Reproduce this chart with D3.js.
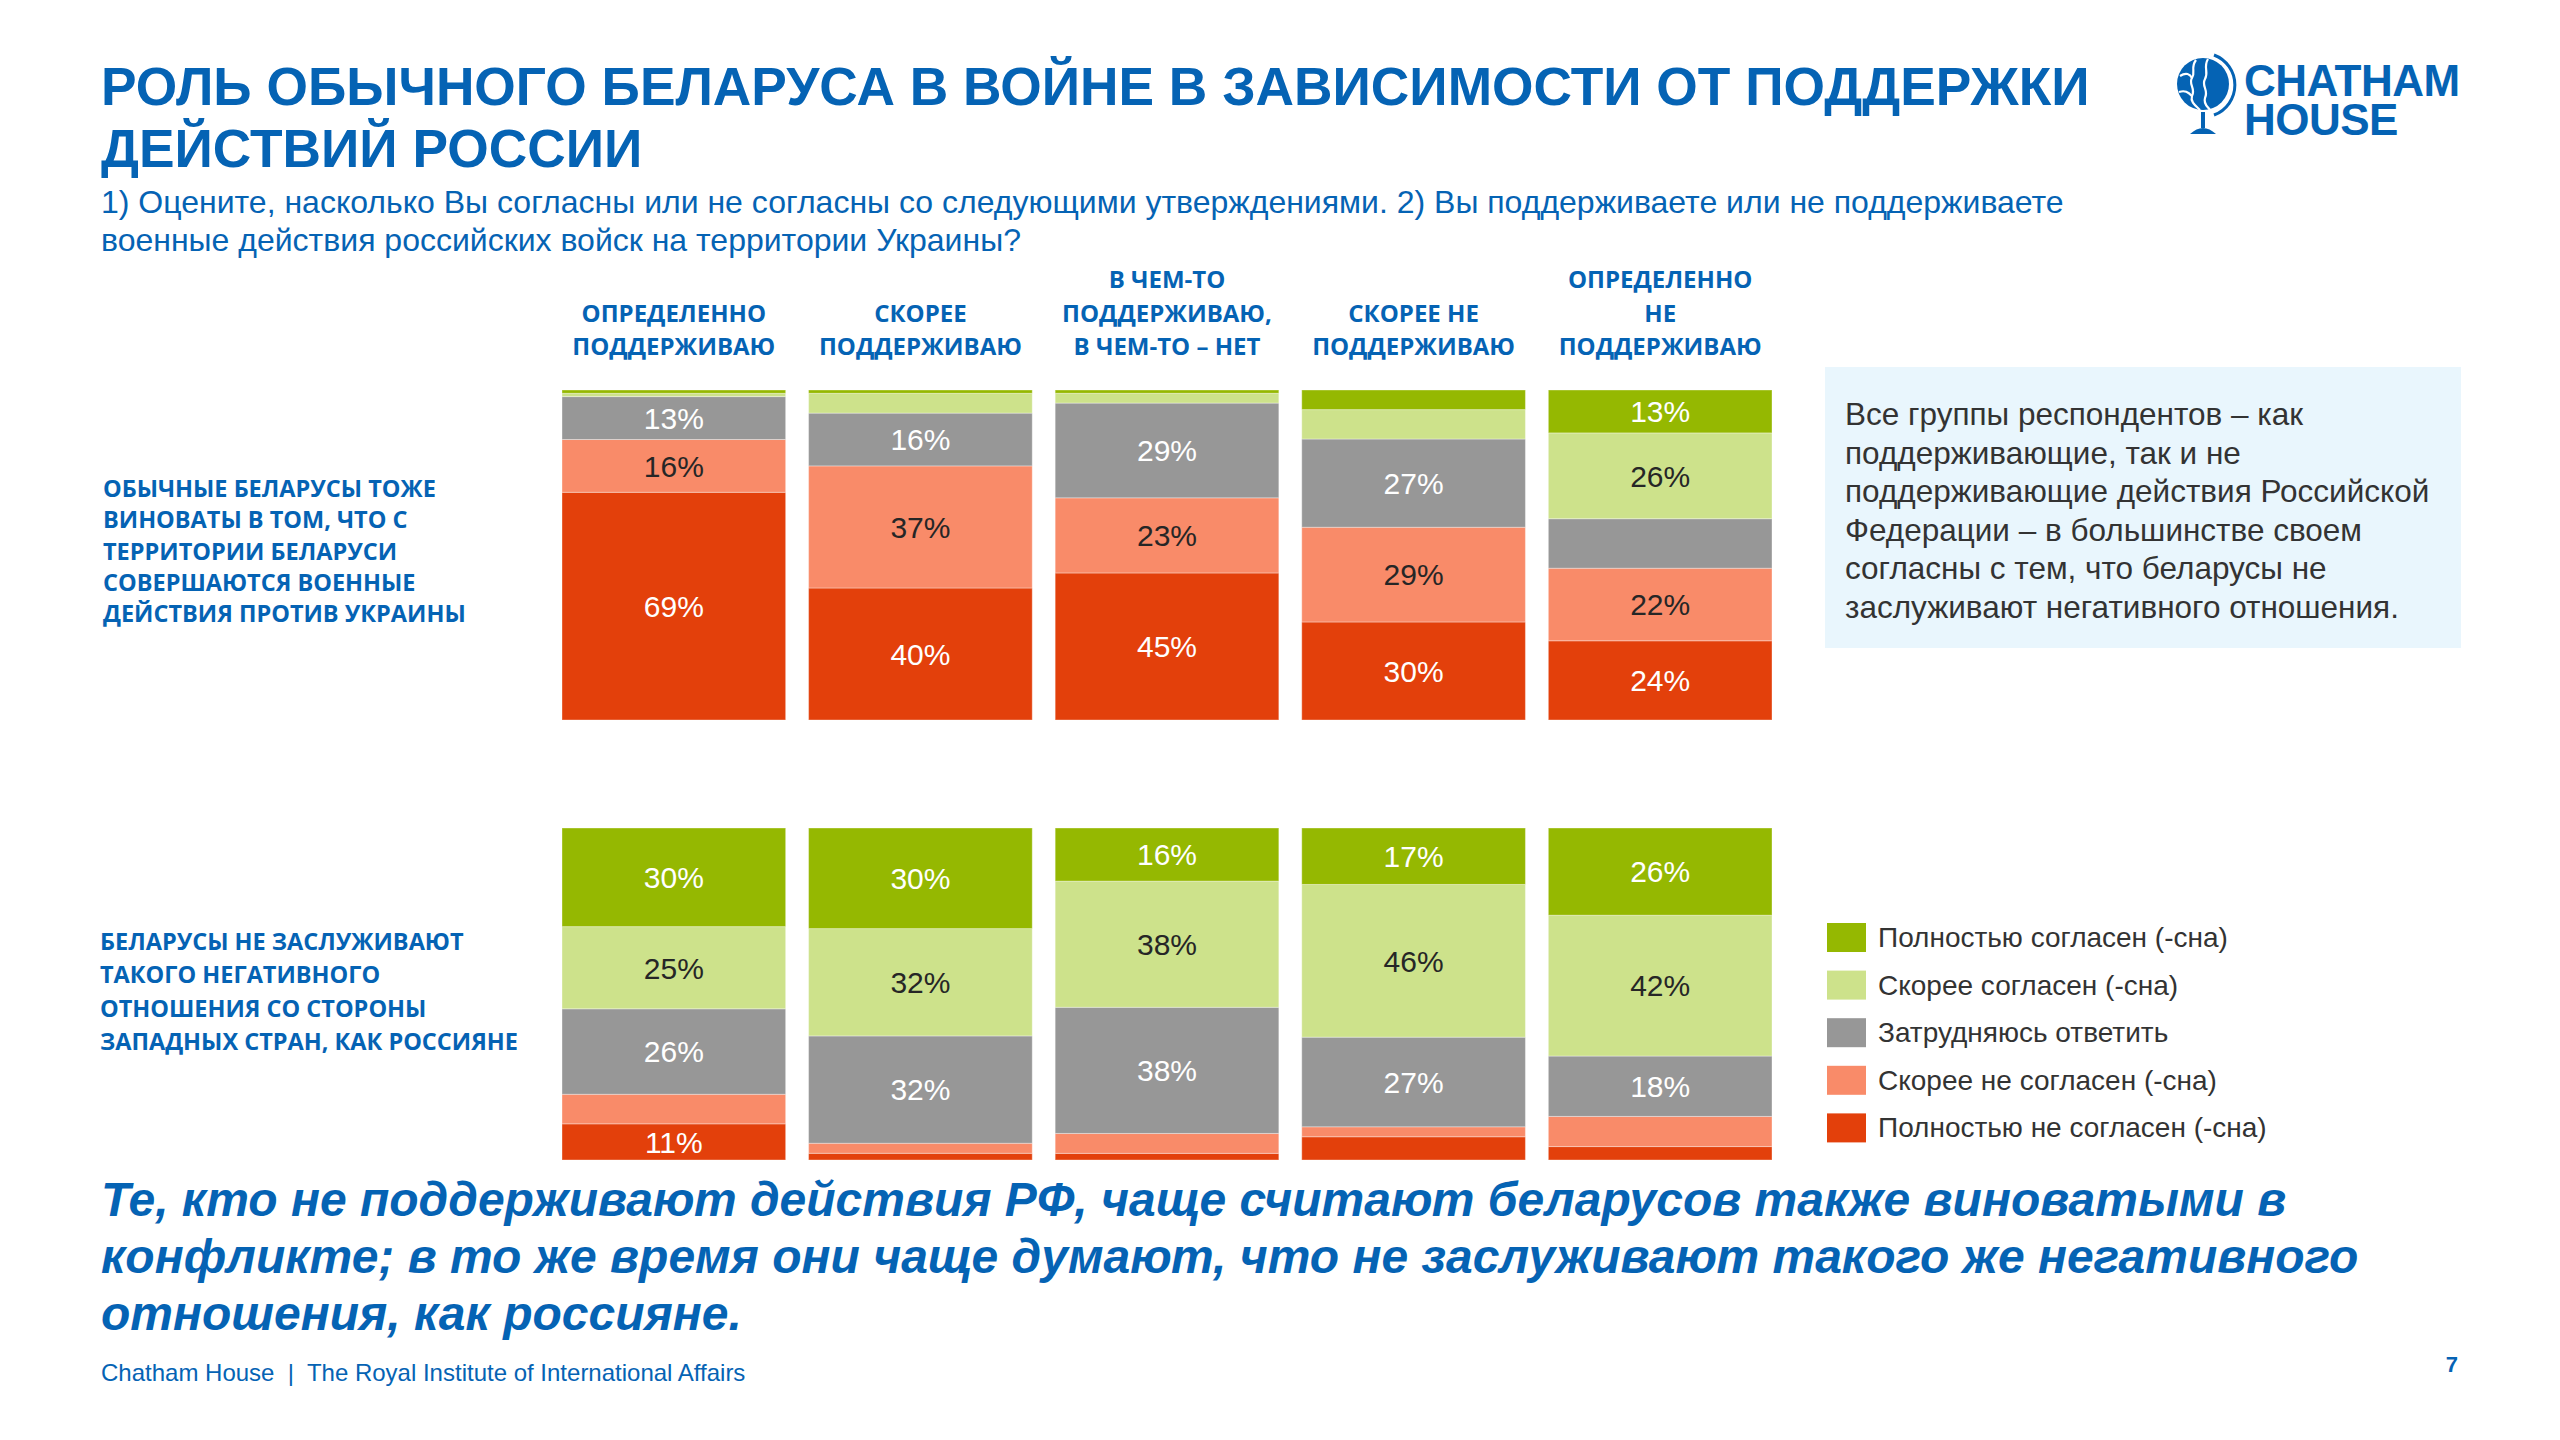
<!DOCTYPE html>
<html><head><meta charset="utf-8">
<script src="https://cdn.jsdelivr.net/npm/d3@7"></script>
<style>body{margin:0;background:#fff} svg{display:block}</style>
</head><body>
<svg id="chart" width="2560" height="1440"></svg>
<script>
// ---------- DATA ----------
const groupLines = [
  ["ОПРЕДЕЛЕННО", "ПОДДЕРЖИВАЮ"],
  ["СКОРЕЕ", "ПОДДЕРЖИВАЮ"],
  ["В ЧЕМ-ТО", "ПОДДЕРЖИВАЮ,", "В ЧЕМ-ТО – НЕТ"],
  ["СКОРЕЕ НЕ", "ПОДДЕРЖИВАЮ"],
  ["ОПРЕДЕЛЕННО", "НЕ", "ПОДДЕРЖИВАЮ"]
];
const groups = groupLines.map(l => l.join(" "));
// stacking order: bottom -> top
const seriesNames = ["Полностью не согласен (-сна)", "Скорее не согласен (-сна)", "Затрудняюсь ответить", "Скорее согласен (-сна)", "Полностью согласен (-сна)"];
const seriesKeys = ["fullyDisagree", "ratherDisagree", "hard", "ratherAgree", "fullyAgree"];

// Statement 1: ordinary Belarusians are also guilty
const s1FullyDisagree = [69, 40, 45, 30, 24];
const s1RatherDisagree = [16, 37, 23, 29, 22];
const s1Hard = [13, 16, 29, 27, 15];
const s1RatherAgree = [1, 6, 3, 9, 26];
const s1FullyAgree = [1, 1, 1, 6, 13];

// Statement 2: Belarusians do not deserve the same negative attitude
const s2FullyDisagree = [11, 2, 2, 7, 4];
const s2RatherDisagree = [9, 3, 6, 3, 9];
const s2Hard = [26, 32, 38, 27, 18];
const s2RatherAgree = [25, 32, 38, 46, 42];
const s2FullyAgree = [30, 30, 16, 17, 26];

// segments whose value is not printed in the original
const unlabeled = [{ chart: 0, series: "hard", group: 4 }];

const statements = [
  ["ОБЫЧНЫЕ БЕЛАРУСЫ ТОЖЕ", "ВИНОВАТЫ В ТОМ, ЧТО С", "ТЕРРИТОРИИ БЕЛАРУСИ", "СОВЕРШАЮТСЯ ВОЕННЫЕ", "ДЕЙСТВИЯ ПРОТИВ УКРАИНЫ"],
  ["БЕЛАРУСЫ НЕ ЗАСЛУЖИВАЮТ", "ТАКОГО НЕГАТИВНОГО", "ОТНОШЕНИЯ СО СТОРОНЫ", "ЗАПАДНЫХ СТРАН, КАК РОССИЯНЕ"]
];

const titleLines = ["РОЛЬ ОБЫЧНОГО БЕЛАРУСА В ВОЙНЕ В ЗАВИСИМОСТИ ОТ ПОДДЕРЖКИ", "ДЕЙСТВИЙ РОССИИ"];
const subtitleLines = ["1) Оцените, насколько Вы согласны или не согласны со следующими утверждениями. 2) Вы поддерживаете или не поддерживаете", "военные действия российских войск на территории Украины?"];
const noteLines = ["Все группы респондентов – как", "поддерживающие, так и не", "поддерживающие действия Российской", "Федерации – в большинстве своем", "согласны с тем, что беларусы не", "заслуживают негативного отношения."];
const conclusionLines = ["Те, кто не поддерживают действия РФ, чаще считают беларусов также виноватыми в", "конфликте; в то же время они чаще думают, что не заслуживают такого же негативного", "отношения, как россияне."];
const footerText = "Chatham House  |  The Royal Institute of International Affairs";
const pageNumber = "7";

// ---------- STYLE ----------
const BLUE = "#0563b4";
const colors = { fullyDisagree: "#e3400b", ratherDisagree: "#f98b69", hard: "#979797", ratherAgree: "#cde28b", fullyAgree: "#95b801" };
const labelColor = { fullyDisagree: "#ffffff", ratherDisagree: "#262626", hard: "#ffffff", ratherAgree: "#262626", fullyAgree: "#ffffff" };
const SANS = "'Liberation Sans', Arial, sans-serif";
const HEAD = "'Open Sans', 'Noto Sans', sans-serif";

const svg = d3.select("#chart");

function multiline(sel, lines, x, y0, dy, attrs) {
  const t = sel.append("text").attr("x", x).attr("y", y0);
  Object.entries(attrs).forEach(([k, v]) => t.attr(k, v));
  lines.forEach((l, i) => t.append("tspan").attr("x", x).attr("y", y0 + i * dy).text(l));
  return t;
}

// Title
multiline(svg, titleLines, 101, 105, 62, { "font-family": SANS, "font-weight": "bold", "font-size": 53.3, fill: BLUE });
// Subtitle
multiline(svg, subtitleLines, 101, 213, 38, { "font-family": SANS, "font-size": 32, fill: BLUE });

// Logo
const logo = svg.append("g");
logo.append("circle").attr("cx", 2203).attr("cy", 84).attr("r", 26).attr("fill", BLUE);
logo.append("path").attr("d", "M2214,55 A32,32 0 0 1 2214,115").attr("fill", "none").attr("stroke", BLUE).attr("stroke-width", 3);
const faceStroke = { fill: "none", stroke: "#fff", "stroke-width": 2.2 };
["M2196,60 C2190,68 2196,72 2192,78 C2188,84 2196,88 2192,96 C2190,102 2196,106 2200,110",
 "M2208,59 C2203,67 2209,72 2205,79 C2201,86 2209,90 2205,98 C2203,104 2208,107 2210,110",
 "M2180,76 C2186,72 2190,74 2192,78",
 "M2179,92 C2185,90 2188,92 2192,96"].forEach(d => {
  const p = logo.append("path").attr("d", d);
  Object.entries(faceStroke).forEach(([k, v]) => p.attr(k, v));
});
logo.append("rect").attr("x", 2201).attr("y", 112).attr("width", 4).attr("height", 16).attr("fill", BLUE);
logo.append("path").attr("d", "M2190,134 Q2203,122 2216,134 Z").attr("fill", BLUE);
logo.append("text").attr("x", 2244).attr("y", 96).attr("font-family", SANS).attr("font-weight", "bold")
  .attr("font-size", 44).attr("letter-spacing", -0.5).attr("fill", BLUE).text("CHATHAM");
logo.append("text").attr("x", 2244).attr("y", 135).attr("font-family", SANS).attr("font-weight", "bold")
  .attr("font-size", 44).attr("letter-spacing", -0.5).attr("fill", BLUE).text("HOUSE");

// x scale (shared)
const x = d3.scaleBand().domain(groups).range([562, 1772]).paddingInner(0.093).paddingOuter(0);

// Column headers
groupLines.forEach((lines, i) => {
  const cx = x(groups[i]) + x.bandwidth() / 2;
  const n = lines.length;
  multiline(svg, lines, cx, 355 - (n - 1) * 33.5, 33.5, {
    "font-family": HEAD, "font-weight": "bold", "font-size": 24, fill: BLUE, "text-anchor": "middle"
  });
});

const chartDefs = [
  { series: [s1FullyDisagree, s1RatherDisagree, s1Hard, s1RatherAgree, s1FullyAgree], range: [720, 390], labelY: 497, labelDy: 31.3, labelX: 103 },
  { series: [s2FullyDisagree, s2RatherDisagree, s2Hard, s2RatherAgree, s2FullyAgree], range: [1160, 828], labelY: 950, labelDy: 33.3, labelX: 100 }
];

chartDefs.forEach((cd, ci) => {
  const rows = groups.map((g, gi) => {
    const r = { group: g, gi };
    seriesKeys.forEach((k, si) => r[k] = cd.series[si][gi]);
    return r;
  });
  const stack = d3.stack().keys(seriesKeys).offset(d3.stackOffsetExpand);
  const stacked = stack(rows);
  const y = d3.scaleLinear().domain([0, 1]).range(cd.range);
  const g = svg.append("g");
  const layers = g.selectAll("g.layer").data(stacked).join("g").attr("class", "layer")
    .attr("fill", d => colors[d.key]);
  layers.selectAll("rect").data(d => d.map(v => Object.assign(v, { key: d.key }))).join("rect")
    .attr("x", d => x(d.data.group))
    .attr("width", x.bandwidth())
    .attr("y", d => y(d[1]))
    .attr("height", d => y(d[0]) - y(d[1]))
    .attr("stroke", "#ffffff").attr("stroke-opacity", 0.35).attr("stroke-width", 1);
  layers.selectAll("text").data(d => d.filter(v => {
      const val = v.data[d.key];
      const hidden = unlabeled.some(u => u.chart === ci && u.series === d.key && u.group === v.data.gi);
      return val >= 10 && !hidden;
    })).join("text")
    .attr("x", d => x(d.data.group) + x.bandwidth() / 2)
    .attr("y", d => (y(d[0]) + y(d[1])) / 2)
    .attr("dy", "0.36em")
    .attr("text-anchor", "middle")
    .attr("font-family", SANS).attr("font-size", 30)
    .attr("fill", d => labelColor[d.key])
    .text(d => d.data[d.key] + "%");

  multiline(svg, statements[ci], cd.labelX, cd.labelY, cd.labelDy, {
    "font-family": HEAD, "font-weight": "bold", "font-size": 23.5, fill: BLUE
  });
});

// Note box
svg.append("rect").attr("x", 1825).attr("y", 367).attr("width", 636).attr("height", 281).attr("fill", "#e9f6fd");
multiline(svg, noteLines, 1845, 425, 38.6, { "font-family": SANS, "font-size": 31.5, fill: "#333333" });

// Legend (top to bottom: reverse of stack order)
const legendKeys = seriesKeys.slice().reverse();
const legendNames = seriesNames.slice().reverse();
const lg = svg.append("g");
legendKeys.forEach((k, i) => {
  const yy = 923 + i * 47.6;
  lg.append("rect").attr("x", 1827).attr("y", yy).attr("width", 39).attr("height", 29).attr("fill", colors[k]);
  lg.append("text").attr("x", 1878).attr("y", yy + 24).attr("font-family", SANS).attr("font-size", 28)
    .attr("fill", "#333333").text(legendNames[i]);
});

// Conclusion
multiline(svg, conclusionLines, 101, 1216, 57, { "font-family": SANS, "font-weight": "bold", "font-style": "italic", "font-size": 48, fill: BLUE });

// Footer
svg.append("text").attr("x", 101).attr("y", 1381).attr("font-family", SANS).attr("font-size", 24).attr("fill", BLUE)
  .attr("xml:space", "preserve").style("white-space", "pre").text(footerText);
svg.append("text").attr("x", 2458).attr("y", 1372).attr("text-anchor", "end").attr("font-family", SANS)
  .attr("font-weight", "bold").attr("font-size", 22).attr("fill", BLUE).text(pageNumber);
</script>
</body></html>
